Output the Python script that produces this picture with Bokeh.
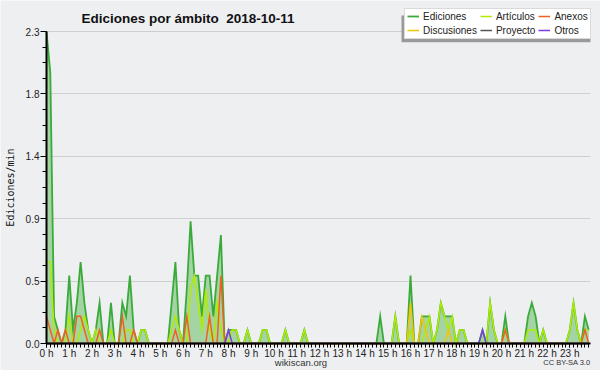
import math
from bokeh.plotting import figure
from bokeh.models import (Range1d, FixedTicker, Label, Legend, LegendItem, BoxAnnotation,
                          NumeralTickFormatter, PrintfTickFormatter, ColumnDataSource)
from bokeh.embed import file_html
from bokeh.resources import INLINE

# ---- data (edits per minute, 10-minute bins, 2018-10-11) ----
minutes = list(range(0, 1440, 10))
hour_ticks = list(range(24))
y_ticks = [0.0, 0.46, 0.92, 1.38, 1.84, 2.3]

ediciones = [
    2.3, 2.0, 0.2, 0.1, 0.0, 0.1, 0.5, 0.1, 0.3, 0.6, 0.3, 0.1,
    0.0, 0.1, 0.3, 0.0, 0.0, 0.3, 0.0, 0.0, 0.3, 0.2, 0.5, 0.1,
    0.0, 0.1, 0.1, 0.0, 0.0, 0.0, 0.0, 0.0, 0.0, 0.3, 0.6, 0.1,
    0.0, 0.4, 0.9, 0.5, 0.5, 0.2, 0.5, 0.5, 0.2, 0.5, 0.8, 0.0,
    0.1, 0.1, 0.1, 0.0, 0.0, 0.1, 0.0, 0.0, 0.0, 0.1, 0.1, 0.0,
    0.0, 0.0, 0.0, 0.1, 0.0, 0.0, 0.0, 0.0, 0.1, 0.0, 0.0, 0.0,
    0.0, 0.0, 0.0, 0.0, 0.0, 0.0, 0.0, 0.0, 0.0, 0.0, 0.0, 0.0,
    0.0, 0.0, 0.0, 0.0, 0.2, 0.0, 0.0, 0.0, 0.2, 0.0, 0.0, 0.0,
    0.5, 0.0, 0.0, 0.2, 0.2, 0.2, 0.0, 0.1, 0.3, 0.2, 0.2, 0.2,
    0.0, 0.1, 0.1, 0.0, 0.0, 0.0, 0.0, 0.1, 0.0, 0.3, 0.1, 0.0,
    0.0, 0.2, 0.0, 0.0, 0.0, 0.0, 0.0, 0.2, 0.3, 0.2, 0.0, 0.1,
    0.0, 0.0, 0.0, 0.0, 0.0, 0.0, 0.1, 0.3, 0.1, 0.0, 0.2, 0.1,
]
articulos = [
    0.6, 0.6, 0.1, 0.0, 0.0, 0.0, 0.2, 0.0, 0.0, 0.1, 0.2, 0.1,
    0.0, 0.1, 0.0, 0.0, 0.0, 0.1, 0.0, 0.0, 0.0, 0.1, 0.1, 0.0,
    0.0, 0.1, 0.1, 0.0, 0.0, 0.0, 0.0, 0.0, 0.0, 0.1, 0.2, 0.1,
    0.0, 0.0, 0.4, 0.5, 0.3, 0.1, 0.4, 0.1, 0.0, 0.3, 0.1, 0.0,
    0.0, 0.1, 0.1, 0.0, 0.0, 0.1, 0.0, 0.0, 0.0, 0.1, 0.1, 0.0,
    0.0, 0.0, 0.0, 0.1, 0.0, 0.0, 0.0, 0.0, 0.1, 0.0, 0.0, 0.0,
    0.0, 0.0, 0.0, 0.0, 0.0, 0.0, 0.0, 0.0, 0.0, 0.0, 0.0, 0.0,
    0.0, 0.0, 0.0, 0.0, 0.0, 0.0, 0.0, 0.0, 0.2, 0.0, 0.0, 0.0,
    0.1, 0.0, 0.0, 0.0, 0.1, 0.2, 0.0, 0.1, 0.3, 0.2, 0.1, 0.2,
    0.0, 0.1, 0.1, 0.0, 0.0, 0.0, 0.0, 0.0, 0.0, 0.3, 0.1, 0.0,
    0.0, 0.1, 0.0, 0.0, 0.0, 0.0, 0.0, 0.1, 0.1, 0.1, 0.0, 0.1,
    0.0, 0.0, 0.0, 0.0, 0.0, 0.0, 0.1, 0.3, 0.1, 0.0, 0.1, 0.1,
]
anexos = [
    0.2, 0.1, 0.0, 0.1, 0.0, 0.1, 0.0, 0.0, 0.2, 0.2, 0.1, 0.0,
    0.0, 0.0, 0.1, 0.0, 0.0, 0.0, 0.0, 0.0, 0.2, 0.0, 0.0, 0.1,
    0.0, 0.0, 0.0, 0.0, 0.0, 0.0, 0.0, 0.0, 0.0, 0.0, 0.1, 0.0,
    0.0, 0.2, 0.0, 0.0, 0.0, 0.0, 0.0, 0.2, 0.0, 0.0, 0.5, 0.0,
    0.0, 0.0, 0.0, 0.0, 0.0, 0.0, 0.0, 0.0, 0.0, 0.0, 0.0, 0.0,
    0.0, 0.0, 0.0, 0.0, 0.0, 0.0, 0.0, 0.0, 0.0, 0.0, 0.0, 0.0,
    0.0, 0.0, 0.0, 0.0, 0.0, 0.0, 0.0, 0.0, 0.0, 0.0, 0.0, 0.0,
    0.0, 0.0, 0.0, 0.0, 0.0, 0.0, 0.0, 0.0, 0.0, 0.0, 0.0, 0.0,
    0.0, 0.0, 0.0, 0.0, 0.0, 0.0, 0.0, 0.0, 0.0, 0.0, 0.0, 0.0,
    0.0, 0.0, 0.0, 0.0, 0.0, 0.0, 0.0, 0.0, 0.0, 0.0, 0.0, 0.0,
    0.0, 0.1, 0.0, 0.0, 0.0, 0.0, 0.0, 0.0, 0.0, 0.0, 0.0, 0.0,
    0.0, 0.0, 0.0, 0.0, 0.0, 0.0, 0.0, 0.0, 0.0, 0.0, 0.1, 0.0,
]
discusiones = [0.0] * 96 + [0.3, 0.0, 0.0, 0.2, 0.1, 0.0, 0.0, 0.0, 0.0, 0.0, 0.1, 0.0] + [0.0] * 36
proyecto = [0.0] * 144
otros = [0.0] * 48 + [0.1] + [0.0] * 66 + [0.1] + [0.0] * 28

# ---- styling ----
BG = "#eeeff1"
C_ED, C_FILL = "#3aaa3a", "#a4d4a4"
C_ART, C_ANX, C_DIS, C_PRO, C_OTR = "#b0ec00", "#f06020", "#f5c400", "#555555", "#7a3ee0"
FONT = "Liberation Sans"

W, H = 600, 370
PX_H = 22.75          # pixels per hour in the frame
PX_V = 135.65         # pixels per unit on the y axis
def dx(page_x):       # page x -> hours
    return (page_x - 46) / PX_H
def dy(page_y):       # page y -> value
    return (343 - page_y) / PX_V

src = ColumnDataSource(dict(
    h=[m / 60 for m in minutes], ed=ediciones, art=articulos, anx=anexos,
    dis=discusiones, pro=proyecto, otr=otros, zero=[0.0] * len(minutes)))

# the frame covers the whole figure; both axes are pinned at 0
p = figure(width=W, height=H, x_range=Range1d(dx(0), dx(W)), y_range=Range1d(dy(H), dy(0)),
           output_backend="svg", toolbar_location=None, title=None,
           min_border_left=0, min_border_right=0, min_border_top=0, min_border_bottom=0,
           background_fill_color=BG, border_fill_color=BG)
p.outline_line_color = None

p.varea(x="h", y1="zero", y2="ed", source=src, fill_color=C_FILL)
r_ed = p.line("h", "ed", source=src, line_color=C_ED, line_width=1.8, line_join="miter")
r_art = p.line("h", "art", source=src, line_color=C_ART, line_width=1.5, line_join="miter")
r_anx = p.line("h", "anx", source=src, line_color=C_ANX, line_width=1.5, line_join="miter")
r_dis = p.line("h", "dis", source=src, line_color=C_DIS, line_width=1.5, line_join="miter")
r_pro = p.line("h", "pro", source=src, line_color=C_PRO, line_width=1.5, line_join="miter")
r_otr = p.line("h", "otr", source=src, line_color=C_OTR, line_width=1.5, line_join="miter")

# axes
xa = p.xaxis[0]
xa.ticker = FixedTicker(ticks=hour_ticks, minor_ticks=[m / 60 for m in minutes])
xa.formatter = PrintfTickFormatter(format="%d h")
xa.fixed_location = 0
xa.bounds = (0, 23.9)
ya = p.yaxis[0]
ya.ticker = FixedTicker(ticks=y_ticks, minor_ticks=[k * 0.115 for k in range(21)])
ya.formatter = NumeralTickFormatter(format="0.0")
ya.fixed_location = 0
ya.bounds = (0, 2.3)
for ax in (xa, ya):
    ax.axis_line_color = "black"
    ax.axis_line_width = 2
    ax.major_tick_line_color = "black"
    ax.minor_tick_line_color = "black"
    ax.major_tick_in = 0
    ax.minor_tick_in = 0
    ax.major_label_text_font = FONT
    ax.major_label_text_font_size = "10px"
    ax.major_label_text_color = "#222222"
xa.major_tick_out = 4
xa.minor_tick_out = 4
xa.major_label_standoff = 0
ya.major_tick_out = 6
ya.minor_tick_out = 4
ya.major_label_standoff = 1
p.xgrid.visible = False
yg = p.ygrid[0]
yg.grid_line_color = "#cfcfcf"
yg.grid_line_width = 1
if "cross_bounds" in yg.properties():
    yg.cross_bounds = (0, 23.9)

# title, axis title and credits
p.add_layout(Label(x=dx(187.5), y=dy(18.3), text="Ediciones por ámbito\u00a0 2018-10-11",
                   text_font=FONT, text_font_style="bold", text_font_size="13.5px",
                   text_align="center", text_baseline="alphabetic", text_color="#111111"))
p.add_layout(Label(x=dx(10), y=dy(187), text="Ediciones/min", angle=math.pi / 2,
                   text_font="DejaVu Sans Mono", text_font_size="10px",
                   text_align="center", text_baseline="middle", text_color="#111111"))
p.add_layout(Label(x=dx(300.5), y=dy(361.5), text="wikiscan.org", text_font=FONT,
                   text_font_size="9.5px", text_align="center", text_baseline="middle",
                   text_color="#333333"))
p.add_layout(Label(x=dx(590), y=dy(362), text="CC BY-SA 3.0", text_font=FONT,
                   text_font_size="7.5px", text_align="right", text_baseline="middle",
                   text_color="#333333"))

# legend with shadow
p.add_layout(BoxAnnotation(left=dx(401), right=dx(590), top=dy(15), bottom=dy(41.7),
                           fill_color="#9a9a9a", fill_alpha=1.0, line_color=None))
legend = Legend(items=[
    LegendItem(label="Ediciones", renderers=[r_ed]),
    LegendItem(label="Artículos", renderers=[r_art]),
    LegendItem(label="Anexos", renderers=[r_anx]),
    LegendItem(label="Discusiones", renderers=[r_dis]),
    LegendItem(label="Proyecto", renderers=[r_pro]),
    LegendItem(label="Otros", renderers=[r_otr]),
], orientation="horizontal", ncols=3, location=(404, H - 38.5),
    label_text_font=FONT, label_text_font_size="10px", label_text_color="#222222",
    glyph_width=12, glyph_height=8, label_height=10, label_standoff=4,
    spacing=3, padding=2, margin=0, border_line_color="#b5b5b5",
    background_fill_color="white", background_fill_alpha=1.0)
p.add_layout(legend)

open("out.html", "w").write(file_html(p, INLINE))
